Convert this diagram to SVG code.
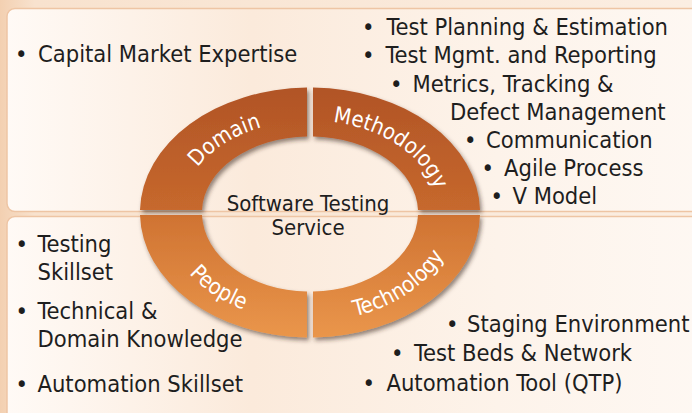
<svg xmlns="http://www.w3.org/2000/svg" width="692" height="413" viewBox="0 0 692 413">
<defs>
<linearGradient id="bg" x1="0" y1="0" x2="1" y2="0">
<stop offset="0" stop-color="#F3D0B1"/>
<stop offset="0.05" stop-color="#F8E2CE"/>
<stop offset="1" stop-color="#FBEEE2"/>
</linearGradient>
<linearGradient id="panel" x1="0" y1="0" x2="1" y2="0">
<stop offset="0" stop-color="#FFFAF6"/>
<stop offset="0.35" stop-color="#FBEADB"/>
<stop offset="0.7" stop-color="#FDF3EA"/>
<stop offset="1" stop-color="#FEF8F3"/>
</linearGradient>
<linearGradient id="ring" gradientUnits="userSpaceOnUse" x1="0" y1="88" x2="0" y2="338">
<stop offset="0" stop-color="#B15426"/>
<stop offset="0.48" stop-color="#C6682D"/>
<stop offset="0.52" stop-color="#D07433"/>
<stop offset="1" stop-color="#EA964B"/>
</linearGradient>
<filter id="sh" x="-10%" y="-10%" width="125%" height="125%">
<feDropShadow dx="2" dy="3" stdDeviation="2" flood-color="#3a2a20" flood-opacity="0.55"/>
</filter>
<path id="topArc" d="M 181 212.5 A 129 92 0 0 1 439 212.5"/>
<path id="botArc" d="M 164 212.5 A 146 109 0 0 0 456 212.5"/>
</defs>
<style>
.t{font-family:'DejaVu Sans Condensed','DejaVu Sans',sans-serif;font-stretch:condensed;font-size:23.5px;fill:#1E1E1E}
.c{font-family:'DejaVu Sans Condensed','DejaVu Sans',sans-serif;font-stretch:condensed;font-size:22px;fill:#1E1E1E;text-anchor:middle}
.l{font-family:'DejaVu Sans Condensed','DejaVu Sans',sans-serif;font-stretch:condensed;font-size:22px;fill:#FFFFFF;text-anchor:middle}
.seg{fill:url(#ring);filter:url(#sh)}
.pn{fill:url(#panel);stroke:#EEC5A4;stroke-width:1.5}
</style>
<rect x="0" y="0" width="692" height="413" fill="url(#bg)"/>
<g id="panels">
<rect class="pn" x="7" y="8.5" width="700" height="203" rx="8"/>
<rect class="pn" x="7" y="216.5" width="700" height="210" rx="8"/>
</g>
<g id="ring-segments">
<g id="domain">
<path class="seg" d="M 140 210 A 170 125 0 0 1 307 87.5 L 307 136.5 A 108 76 0 0 0 202 210 Z"/>
<text class="l"><textPath href="#topArc" startOffset="25%">Domain</textPath></text>
</g>
<g id="methodology">
<path class="seg" d="M 313 87.5 A 170 125 0 0 1 480 210 L 418 210 A 108 76 0 0 0 313 136.5 Z"/>
<text class="l"><textPath href="#topArc" startOffset="75%">Methodology</textPath></text>
</g>
<g id="technology">
<path class="seg" d="M 480 215 A 170 125 0 0 1 313 337.5 L 313 291.5 A 108 79 0 0 0 418 215 Z"/>
<text class="l"><textPath href="#botArc" startOffset="75%">Technology</textPath></text>
</g>
<g id="people">
<path class="seg" d="M 307 337.5 A 170 125 0 0 1 140 215 L 202 215 A 108 79 0 0 0 307 291.5 Z"/>
<text class="l"><textPath href="#botArc" startOffset="25%">People</textPath></text>
</g>
</g>
<g id="center">
<text class="c" x="308" y="211">Software Testing</text>
<text class="c" x="308" y="235">Service</text>
</g>
<g id="domain-list">
<text class="t" y="62"><tspan x="15">•</tspan><tspan x="38">Capital Market Expertise</tspan></text>
</g>
<g id="methodology-list">
<text class="t" y="34.5"><tspan x="362">•</tspan><tspan x="386.5">Test Planning &amp; Estimation</tspan></text>
<text class="t" y="62.5"><tspan x="362">•</tspan><tspan x="385.5">Test Mgmt. and Reporting</tspan></text>
<text class="t" y="91.5"><tspan x="390">•</tspan><tspan x="412.5">Metrics, Tracking &amp;</tspan></text>
<text class="t" y="119.5"><tspan x="450">Defect Management</tspan></text>
<text class="t" y="147.5"><tspan x="464">•</tspan><tspan x="486">Communication</tspan></text>
<text class="t" y="175.5"><tspan x="481.5">•</tspan><tspan x="504">Agile Process</tspan></text>
<text class="t" y="203.5"><tspan x="490.5">•</tspan><tspan x="512.5">V Model</tspan></text>
</g>
<g id="people-list">
<text class="t" y="251.5"><tspan x="15.5">•</tspan><tspan x="37.5">Testing</tspan></text>
<text class="t" y="279.5"><tspan x="37.5">Skillset</tspan></text>
<text class="t" y="319"><tspan x="15.5">•</tspan><tspan x="37.5">Technical &amp;</tspan></text>
<text class="t" y="346.5"><tspan x="37.5">Domain Knowledge</tspan></text>
<text class="t" y="391.5"><tspan x="15.5">•</tspan><tspan x="37.5">Automation Skillset</tspan></text>
</g>
<g id="technology-list">
<text class="t" y="331.5"><tspan x="446">•</tspan><tspan x="467">Staging Environment</tspan></text>
<text class="t" y="360.5"><tspan x="391">•</tspan><tspan x="414">Test Beds &amp; Network</tspan></text>
<text class="t" y="390.5"><tspan x="362.5">•</tspan><tspan x="386.5">Automation Tool (QTP)</tspan></text>
</g>
</svg>
